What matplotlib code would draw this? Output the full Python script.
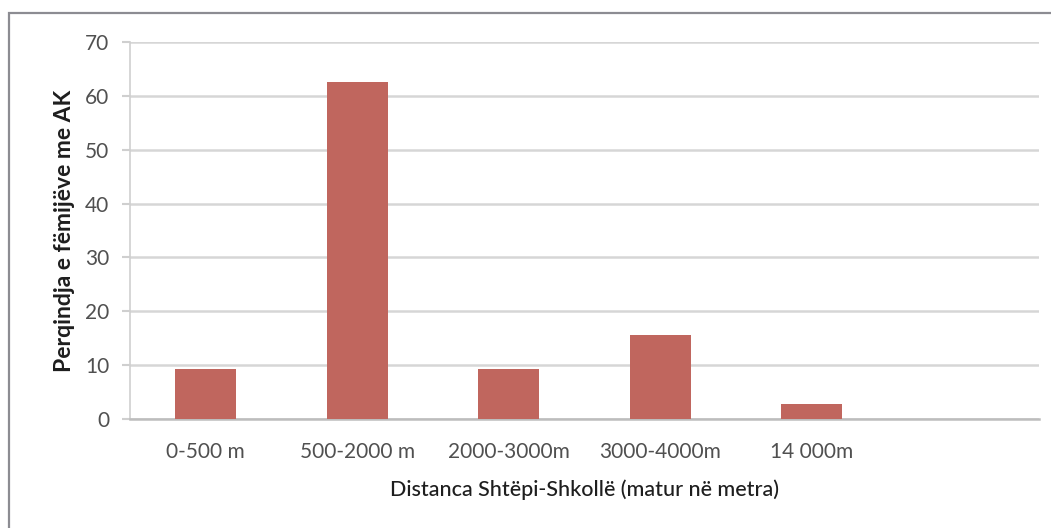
import matplotlib.pyplot as plt
from matplotlib.patches import Rectangle

# values
categories = ["0-500 m", "500-2000 m", "2000-3000m", "3000-4000m", "14 000m", ""]
values = [9.4, 62.6, 9.3, 15.6, 2.9, None]
y_ticks = [0, 10, 20, 30, 40, 50, 60, 70]

plt.rcParams['font.family'] = ['Lato', 'DejaVu Sans']

W, H = 1051, 528
fig = plt.figure(figsize=(W / 100, H / 100), dpi=100)
ax = fig.add_axes([130 / W, 1 - 419.3 / H, (1039 - 130) / W, (419.3 - 41.7) / H])

# outer frame of the pasted picture (right and bottom run off the image)
fig.patches.append(Rectangle((9 / W, -0.05), 1.1, 1 - 13 / H + 0.05,
                             transform=fig.transFigure, fill=False,
                             edgecolor='#8c8c92', linewidth=1.6))

x = list(range(len(categories)))
bar_x = [i for i, v in zip(x, values) if v is not None]
bar_v = [v for v in values if v is not None]
ax.bar(bar_x, bar_v, width=0.4, color='#C0665E', zorder=3)

ax.set_xlim(-0.5, len(categories) - 0.5)
ax.set_ylim(0, 70)
ax.set_yticks(y_ticks)
ax.set_xticks(x)
ax.set_xticklabels(categories)

ax.grid(axis='y', color='#d6d6d6', linewidth=1.8, zorder=0)
ax.grid(axis='x', visible=False)
for s in ['top', 'right']:
    ax.spines[s].set_visible(False)
ax.spines['left'].set_color('#cfcfcf')
ax.spines['left'].set_linewidth(1.2)
ax.spines['bottom'].set_color('#bdbdbd')
ax.spines['bottom'].set_linewidth(1.8)

ax.tick_params(axis='y', length=6, width=1.5, color='#cfcfcf', labelsize=15,
               labelcolor='#505050', pad=9)
ax.tick_params(axis='x', length=0, labelsize=15, labelcolor='#505050', pad=16)

ax.set_xlabel("Distanca Shtëpi-Shkollë (matur në metra)", fontsize=15.5,
              fontweight='medium', color='#1e1e1e', labelpad=13)
ax.set_ylabel("Perqindja e fëmijëve me AK", fontsize=16.5, fontweight='bold',
              color='#1e1e1e', labelpad=7)

fig.savefig("out.png", dpi=100, facecolor='white')
